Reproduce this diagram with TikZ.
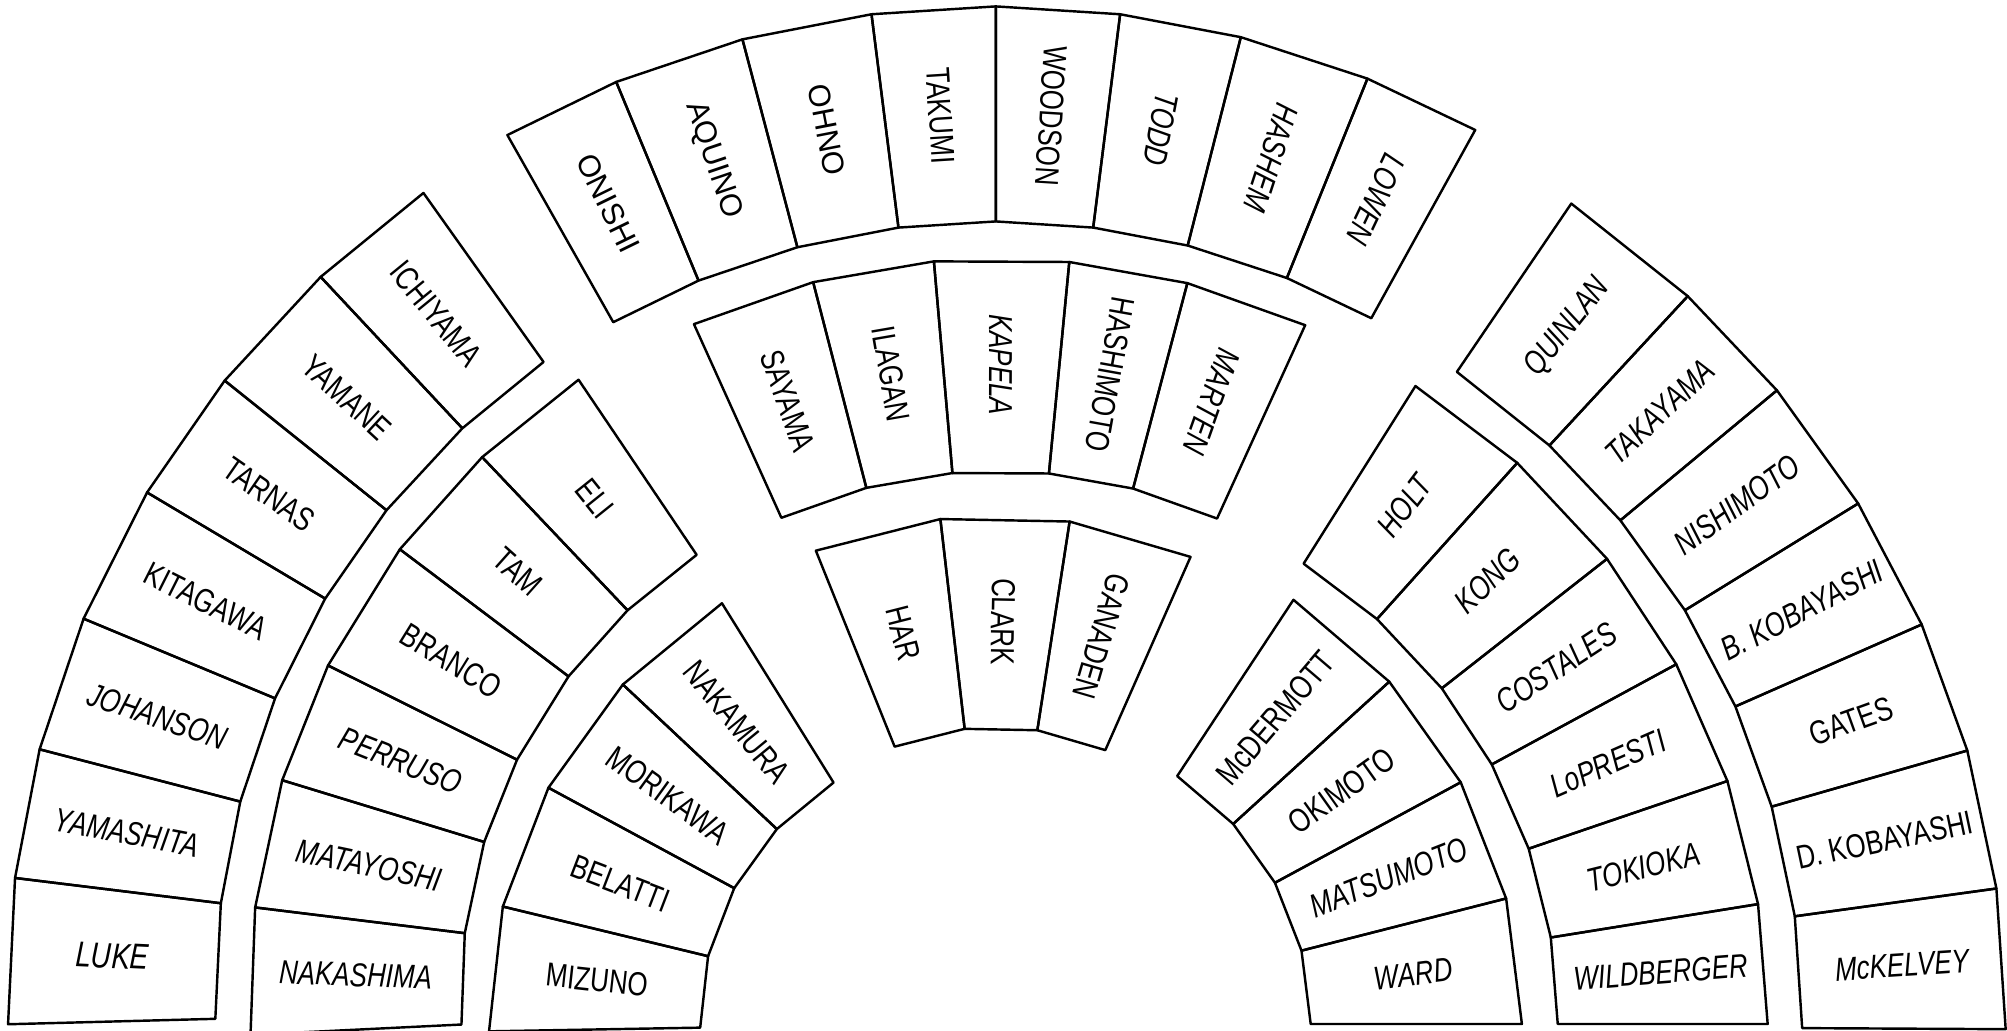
\documentclass[tikz,border=0pt]{standalone}
\usepackage{fontspec}
\setmainfont{Liberation Sans}[FakeStretch=0.78]
\newfontfamily\widefont{Liberation Sans}
\begin{document}
\begin{tikzpicture}[x=0.5pt,y=0.5pt,
  seatbox/.style={draw=black, line width=0.95pt, line join=round},
  lbl/.style={font=\fontsize{13}{14}\selectfont, inner sep=0pt}]
\fill[white] (0,0) rectangle (1568,805);
\useasboundingbox (0,0) rectangle (1568,805);
\coordinate (CL) at (778,25);
\coordinate (CTM) at (780,25);
\coordinate (CLI) at (768,6);
\coordinate (CR) at (792,5);
\newcommand\Seat[8]{%
  \draw[seatbox] ([shift={(#5:#3)}]#2) -- ([shift={(#5:#4)}]#2) -- ([shift={(#6:#4)}]#2) -- ([shift={(#6:#3)}]#2) -- cycle;
  \pgfmathsetmacro\SeatMidA{(#5+#6)/2}%
  \pgfmathsetmacro\SeatMidR{(#3+#4)/2}%
  \node[lbl, rotate=\SeatMidA-#7] (#1) at ([shift={(\SeatMidA:\SeatMidR)}]#2) {#8};%
}
% left outer
\Seat{luke}{CL}{610}{772}{181.5}{173}{180}{\fontsize{14}{15}\selectfont\itshape LUKE}
\Seat{yamashita}{CL}{610}{772}{173}{165.4}{180}{\itshape YAMASHITA}
\Seat{johanson}{CL}{610}{772}{165.4}{157.4}{180}{\itshape JOHANSON}
\Seat{kitagawa}{CL}{610}{772}{157.4}{149.2}{180}{KITAGAWA}
\Seat{tarnas}{CL}{610}{772}{149.2}{141.3}{180}{TARNAS}
\Seat{yamane}{CL}{610}{772}{141.3}{133.1}{180}{YAMANE}
\Seat{ichiyama}{CL}{610}{772}{133.1}{125.4}{180}{ICHIYAMA}
% left middle
\Seat{nakashima}{CL}{418}{583}{182.8}{173}{180}{\itshape NAKASHIMA}
\Seat{matayoshi}{CL}{418}{583}{173}{163}{180}{\itshape MATAYOSHI}
\Seat{perruso}{CL}{418}{583}{163}{153.5}{180}{\itshape PERRUSO}
\Seat{branco}{CL}{418}{583}{153.5}{143}{180}{BRANCO}
\Seat{tam}{CL}{418}{583}{143}{133.5}{180}{TAM}
\Seat{eli}{CL}{418}{583}{133.5}{124}{180}{ELI}
% left inner
\Seat{mizuno}{CLI}{221}{386}{181}{166.4}{180}{MIZUNO}
\Seat{belatti}{CLI}{221}{386}{166.4}{151.6}{180}{BELATTI}
\Seat{morikawa}{CLI}{221}{386}{151.6}{136.8}{180}{MORIKAWA}
\Seat{nakamura}{CLI}{221}{386}{136.8}{121.9}{180}{NAKAMURA}
% top outer
\Seat{onishi}{CL}{607}{775}{119.5}{112.5}{180}{\widefont\fontsize{12}{13}\selectfont ONISHI}
\Seat{aquino}{CL}{607}{775}{112.5}{104.8}{180}{\widefont\fontsize{12}{13}\selectfont AQUINO}
\Seat{ohno}{CL}{607}{775}{104.8}{97.2}{180}{\widefont\fontsize{12}{13}\selectfont OHNO}
\Seat{takumi}{CL}{607}{775}{97.2}{90}{180}{TAKUMI}
\Seat{woodson}{CL}{607}{775}{90}{82.8}{180}{WOODSON}
\Seat{todd}{CL}{607}{775}{82.8}{75.7}{180}{\itshape TODD}
\Seat{hashem}{CL}{607}{775}{75.7}{68}{180}{\itshape HASHEM}
\Seat{lowen}{CL}{607}{775}{68}{61.1}{180}{\itshape LOWEN}
% top middle
\Seat{sayama}{CTM}{412}{578}{114.3}{104.5}{180}{SAYAMA}
\Seat{ilagan}{CTM}{412}{578}{104.5}{95}{180}{ILAGAN}
\Seat{kapela}{CTM}{412}{578}{95}{84.5}{180}{\itshape KAPELA}
\Seat{hashimoto}{CTM}{412}{578}{84.5}{75.2}{180}{HASHIMOTO}
\Seat{marten}{CTM}{412}{578}{75.2}{65.5}{180}{\itshape MARTEN}
% top inner
\Seat{har}{CL}{212}{377}{111.9}{96.6}{180}{HAR}
\Seat{clark}{CL}{212}{377}{96.6}{81.2}{180}{CLARK}
\Seat{ganaden}{CL}{212}{377}{81.2}{66.2}{180}{GANADEN}
% right outer
\Seat{mckelvey}{CR}{616}{775}{-0.3}{7.85}{0}{\itshape McKELVEY}
\Seat{dkobayashi}{CR}{616}{775}{7.85}{16}{0}{D. KOBAYASHI}
\Seat{gates}{CR}{616}{775}{16}{23.75}{0}{GATES}
\Seat{bkobayashi}{CR}{616}{775}{23.75}{31.65}{0}{\itshape B. KOBAYASHI}
\Seat{nishimoto}{CR}{616}{775}{31.65}{39.7}{0}{\itshape NISHIMOTO}
\Seat{takayama}{CR}{616}{775}{39.7}{47.2}{0}{\itshape TAKAYAMA}
\Seat{quinlan}{CR}{616}{775}{47.2}{55.8}{0}{\itshape QUINLAN}
% right middle
\Seat{wildberger}{CR}{425}{589}{0}{9.15}{0}{\itshape WILDBERGER}
\Seat{tokioka}{CR}{425}{589}{9.15}{18.8}{0}{\itshape TOKIOKA}
\Seat{lopresti}{CR}{425}{589}{18.8}{28.5}{0}{\itshape LoPRESTI}
\Seat{costales}{CR}{425}{589}{28.5}{38.1}{0}{\itshape COSTALES}
\Seat{kong}{CR}{425}{589}{38.1}{48.1}{0}{\itshape KONG}
\Seat{holt}{CR}{425}{589}{48.1}{57.8}{0}{\itshape HOLT}
% right inner
\Seat{ward}{CR}{232}{397}{0}{14.3}{0}{\itshape WARD}
\Seat{matsumoto}{CR}{232}{397}{14.3}{28.4}{0}{\itshape MATSUMOTO}
\Seat{okimoto}{CR}{232}{397}{28.4}{42.35}{0}{OKIMOTO}
\Seat{mcdermott}{CR}{232}{397}{42.35}{56.6}{0}{McDERMOTT}
\end{tikzpicture}
\end{document}
